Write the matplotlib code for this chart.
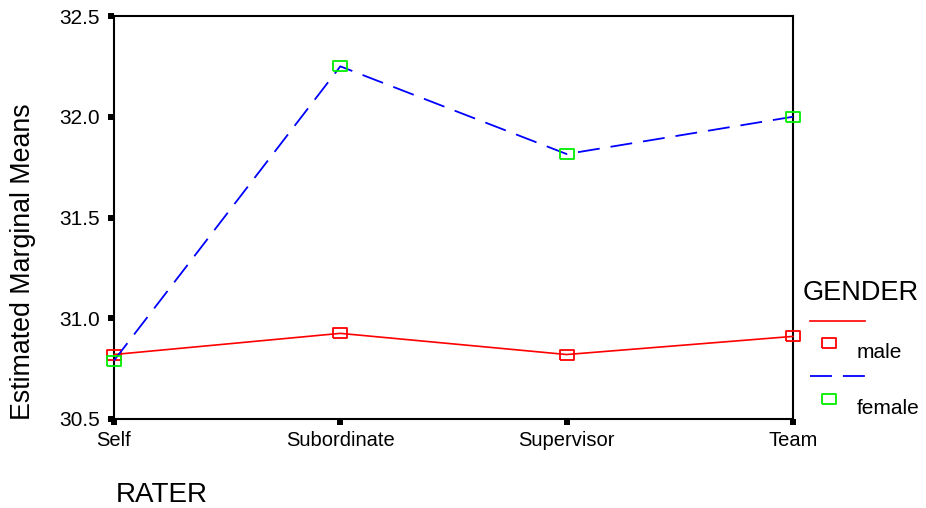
import matplotlib
matplotlib.use("Agg")
import matplotlib.pyplot as plt
from matplotlib.lines import Line2D

plt.rcParams['font.family'] = ['Liberation Sans', 'DejaVu Sans']
plt.rcParams['lines.scale_dashes'] = False

raters = ["Self", "Subordinate", "Supervisor", "Team"]
male = [30.82, 30.925, 30.82, 30.91]
female = [30.79, 32.25, 31.815, 32.00]
yticks = [30.5, 31.0, 31.5, 32.0, 32.5]
ytick_labels = ["30.5", "31.0", "31.5", "32.0", "32.5"]

W, H = 926, 508
fig = plt.figure(figsize=(W / 100, H / 100), dpi=100)
ax = fig.add_axes([114 / W, 1 - 419 / H, (793 - 114) / W, (419 - 16) / H])

x = list(range(len(raters)))
rect = [(-1.27, -1), (1.27, -1), (1.27, 1), (-1.27, 1), (-1.27, -1)]

ax.plot(x, male, color='#ff0000', lw=1.2, marker=rect, ms=9.4,
        mfc='none', mec='#ff0000', mew=1.3, clip_on=False, zorder=3)
ax.plot(x, female, color='#0000ff', lw=1.3, dashes=(15.8, 7.9),
        marker=rect, ms=9.4, mfc='none', mec='#00ee00', mew=1.3,
        clip_on=False, zorder=3)

ax.set_xlim(0, len(raters) - 1)
ax.set_ylim(30.5, 32.5)
ax.set_xticks(x)
ax.set_xticklabels(raters, fontsize=14.5)
ax.set_yticks(yticks)
ax.set_yticklabels(ytick_labels, fontsize=15)
ax.tick_params(axis='both', direction='out', length=4.3, width=4.3, color='black')
ax.tick_params(axis='x', pad=4)
ax.tick_params(axis='y', pad=6)
for s in ax.spines.values():
    s.set_linewidth(1.5)
    s.set_color('black')

fig.text(23 / W, 1 - 262 / H, "Estimated Marginal Means", rotation=90,
         fontsize=19.3, ha='center', va='center')
fig.text(162 / W, 1 - 495 / H, "RATER", fontsize=20, ha='center', va='center')

# legend
fig.text(803 / W, 1 - 293 / H, "GENDER", fontsize=19.5, ha='left', va='center')
fig.add_artist(Line2D([810 / W, 865 / W], [1 - 321 / H, 1 - 321 / H],
                      color='#ff0000', lw=1.2))
fig.add_artist(Line2D([829 / W], [1 - 343 / H], marker=rect, ms=9.4,
                      mfc='none', mec='#ff0000', mew=1.3, ls='none'))
fig.text(857 / W, 1 - 353 / H, "male", fontsize=15, ha='left', va='center')
fig.add_artist(Line2D([810 / W, 865 / W], [1 - 376 / H, 1 - 376 / H],
                      color='#0000ff', lw=1.3, dashes=(15.8, 7.9)))
fig.add_artist(Line2D([829 / W], [1 - 399 / H], marker=rect, ms=9.4,
                      mfc='none', mec='#00ee00', mew=1.3, ls='none'))
fig.text(857 / W, 1 - 408 / H, "female", fontsize=15, ha='left', va='center')

fig.savefig("out.png", dpi=100, facecolor='white')
